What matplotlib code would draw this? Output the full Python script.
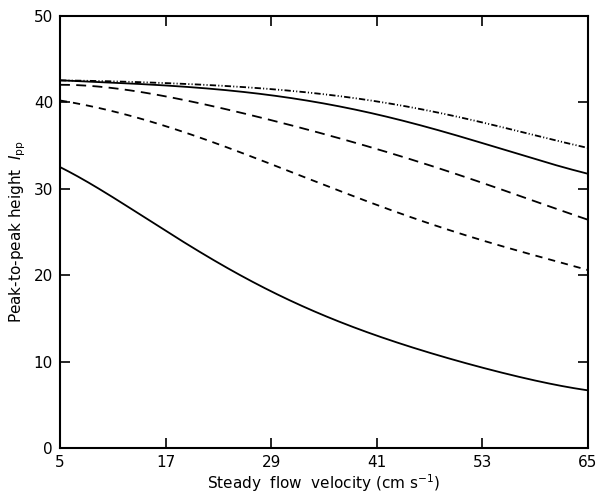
import numpy as np
import matplotlib
matplotlib.use('Agg')
import matplotlib.pyplot as plt

# steady flow velocity (cm/s)
velocity = [5, 11, 17, 23, 29, 35, 41, 47, 53, 59, 65]

# peak-to-peak height curves (top to bottom)
curve_dashdot = [42.5, 42.4, 42.2, 41.9, 41.5, 40.9, 40.1, 39.0, 37.6, 36.2, 34.7]
curve_solid_hi = [42.5, 42.3, 41.9, 41.4, 40.8, 39.9, 38.6, 37.0, 35.2, 33.5, 31.7]
curve_longdash = [42.0, 41.6, 40.7, 39.4, 37.8, 36.4, 34.6, 32.7, 30.6, 28.6, 26.4]
curve_dash = [40.2, 38.9, 37.3, 35.1, 32.8, 30.5, 28.1, 26.0, 24.0, 22.3, 20.6]
curve_solid_lo = [32.5, 29.0, 25.2, 21.4, 18.1, 15.4, 13.1, 11.0, 9.3, 7.9, 6.7]

xticks = [5, 17, 29, 41, 53, 65]
yticks = [0, 10, 20, 30, 40, 50]

plt.rcParams['font.family'] = ['DejaVu Sans']
plt.rcParams['mathtext.fontset'] = 'dejavusans'

fig = plt.figure(figsize=(5.98, 4.97), dpi=100)
ax = fig.add_axes([0.1003, 0.0976, 0.8829, 0.8712])

# smooth through the read-off points
xs = np.linspace(5, 65, 300)


def smooth(y):
    c = np.polyfit(velocity, y, 5)
    return np.polyval(c, xs)


lw = 1.3
ax.plot(xs, smooth(curve_dashdot), color='black', lw=lw,
        linestyle=(0, (3.5, 1.2, 0.6, 1.2, 0.6, 1.2)))
ax.plot(xs, smooth(curve_solid_hi), color='black', lw=lw, linestyle='-')
ax.plot(xs, smooth(curve_longdash), color='black', lw=lw,
        linestyle=(0, (5.5, 3.5)))
ax.plot(xs, smooth(curve_dash), color='black', lw=lw,
        linestyle=(0, (4.0, 3.3)))
ax.plot(xs, smooth(curve_solid_lo), color='black', lw=lw, linestyle='-')

ax.set_xlim(5, 65)
ax.set_ylim(0, 50)
ax.set_xticks(xticks)
ax.set_yticks(yticks)
ax.tick_params(direction='in', top=True, right=True, length=7, width=1.2,
               labelsize=11, pad=5)
for s in ax.spines.values():
    s.set_linewidth(1.5)

ax.set_xlabel('Steady  flow  velocity (cm s$^{-1}$)', fontsize=11, labelpad=1)
ax.set_ylabel('Peak-to-peak height  $I_{\\mathrm{pp}}$', fontsize=11, labelpad=4)

fig.savefig('out.png', dpi=100)
